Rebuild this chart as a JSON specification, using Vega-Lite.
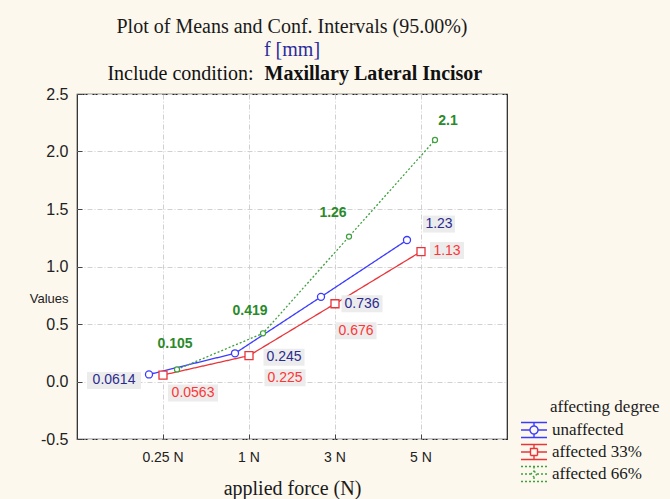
{
  "$schema": "https://vega.github.io/schema/vega-lite/v6.json",
  "width": 430,
  "height": 345,
  "autosize": {"type": "none"},
  "padding": {"left": 77, "top": 94, "right": 163, "bottom": 60},
  "background": "#fcf8ee",
  "title": {
    "text": "Plot of Means and Conf. Intervals (95.00%)",
    "subtitle": "f [mm]",
    "anchor": "middle",
    "frame": "group",
    "font": "Liberation Serif",
    "fontSize": 20,
    "fontWeight": "normal",
    "color": "#1a1a1a",
    "subtitleFont": "Liberation Serif",
    "subtitleFontSize": 20,
    "subtitleColor": "#2b2b9c",
    "subtitlePadding": 3,
    "offset": 3
  },
  "data": {
    "values": [
      {"force": "0.25 N", "degree": "unaffected", "value": 0.0614},
      {"force": "1 N", "degree": "unaffected", "value": 0.245},
      {"force": "3 N", "degree": "unaffected", "value": 0.736},
      {"force": "5 N", "degree": "unaffected", "value": 1.23},
      {"force": "0.25 N", "degree": "affected 33%", "value": 0.0563},
      {"force": "1 N", "degree": "affected 33%", "value": 0.225},
      {"force": "3 N", "degree": "affected 33%", "value": 0.676},
      {"force": "5 N", "degree": "affected 33%", "value": 1.13},
      {"force": "0.25 N", "degree": "affected 66%", "value": 0.105},
      {"force": "1 N", "degree": "affected 66%", "value": 0.419},
      {"force": "3 N", "degree": "affected 66%", "value": 1.26},
      {"force": "5 N", "degree": "affected 66%", "value": 2.1}
    ]
  },
  "encoding": {
    "x": {"field": "force", "type": "ordinal", "sort": ["0.25 N", "1 N", "3 N", "5 N"], "scale": {"type": "band", "paddingInner": 0, "paddingOuter": 0.5}, "axis": null},
    "xOffset": {"field": "degree", "type": "nominal", "sort": ["unaffected", "affected 33%", "affected 66%"], "scale": {"type": "point", "range": [29, 57], "padding": 0}},
    "y": {"field": "value", "type": "quantitative", "scale": {"domain": [-0.5, 2.5], "nice": false, "zero": false}, "axis": null}
  },
  "layer": [
    {
      "mark": {"type": "point", "filled": false, "strokeWidth": 1.4, "opacity": 0},
      "encoding": {
        "color": {"field": "degree", "type": "nominal", "scale": {"domain": ["unaffected", "affected 33%", "affected 66%"], "range": ["#3b3bff", "#e8353a", "#3f9f3f"]},
          "legend": {"orient": "none", "legendX": 473, "legendY": 305, "title": "affecting degree", "titleFont": "Liberation Serif", "titleFontSize": 17, "titleFontWeight": "normal", "titleColor": "#1a1a1a", "titlePadding": 3,
            "labelFont": "Liberation Serif", "labelFontSize": 17, "labelColor": "#1a1a1a", "symbolSize": 400, "symbolStrokeWidth": 1.4, "symbolOffset": -27, "labelOffset": 7, "rowPadding": 0, "padding": 0,
            "symbolFillColor": "white", "symbolOpacity": 1,
            "encoding": {"symbols": {"update": {"fill": {"value": "white"}, "opacity": {"value": 1}}}}}},
        "shape": {"field": "degree", "type": "nominal", "scale": {"domain": ["unaffected", "affected 33%", "affected 66%"], "range": [
          "M-1.3,-0.75H1.3M-1.3,0.75H1.3M0,-0.75V-0.4M0,0.4V0.75M-1.3,0H-0.4M0.4,0H1.3M0.4,0A0.4,0.4 0 1 1 -0.4,0A0.4,0.4 0 1 1 0.4,0",
          "M-1.3,-0.75H1.3M-1.3,0.75H1.3M0,-0.75V-0.35M0,0.35V0.75M-1.3,0H-0.35M0.35,0H1.3M-0.35,-0.35H0.35V0.35H-0.35Z",
          "M-1.3,-0.75H1.3M-1.3,0.75H1.3M0,-0.75V-0.3M0,0.3V0.75M-1.3,0H-0.3M0.3,0H1.3M0,-0.3L0.3,0L0,0.3L-0.3,0Z"]}},
        "strokeDash": {"field": "degree", "type": "nominal", "scale": {"domain": ["unaffected", "affected 33%", "affected 66%"], "range": [[1, 0], [1, 0], [2, 2]]}}
      }
    },
    {
      "mark": {"type": "line", "strokeWidth": 1.3},
      "encoding": {
        "x": {"field": "force", "type": "ordinal", "sort": ["0.25 N", "1 N", "3 N", "5 N"], "scale": {"type": "band", "paddingInner": 0, "paddingOuter": 0.5},
          "axis": {"orient": "bottom", "title": "applied force (N)", "titleFont": "Liberation Serif", "titleFontSize": 20, "titleFontWeight": "normal", "titleColor": "#1a1a1a", "titleY": 49, "titleBaseline": "middle",
            "labelFont": "Liberation Sans", "labelFontSize": 14, "labelColor": "#222", "labelAngle": 0, "labelPadding": 16, "ticks": true, "tickSize": -5, "tickColor": "#444", "domain": false,
            "grid": true, "gridColor": "#d0d0d0", "gridDash": [5, 2, 1, 2]}},
        "y": {"field": "value", "type": "quantitative", "scale": {"domain": [-0.5, 2.5], "nice": false, "zero": false},
          "axis": {"orient": "left", "title": "Values", "titleAngle": 0, "titleAlign": "right", "titleBaseline": "middle", "titleX": -9, "titleY": 204, "titleFont": "Liberation Sans", "titleFontSize": 13, "titleFontWeight": "normal", "titleColor": "#222",
            "values": [-0.5, 0, 0.5, 1, 1.5, 2, 2.5], "format": ".1f", "labelExpr": "replace(datum.label, '\u2212', '-')", "labelFont": "Liberation Sans", "labelFontSize": 16, "labelColor": "#222", "labelPadding": 14, "ticks": true, "tickSize": -5, "tickColor": "#444", "domain": false,
            "grid": true, "gridColor": "#d0d0d0", "gridDash": [5, 2, 1, 2]}},
        "color": {"field": "degree", "type": "nominal", "scale": {"domain": ["unaffected", "affected 33%", "affected 66%"], "range": ["#3b3bff", "#e8353a", "#3f9f3f"]}, "legend": null},
        "strokeDash": {"field": "degree", "type": "nominal", "scale": {"domain": ["unaffected", "affected 33%", "affected 66%"], "range": [[1, 0], [1, 0], [2, 2]]}, "legend": null}
      }
    },
    {"transform": [{"filter": "datum.degree == 'unaffected' && datum.force == '0.25 N'"}], "mark": {"type": "point", "shape": "M-6.2,-0.25H-0.8V1.45H-6.2Z", "size": 400, "filled": true, "fill": "#ececec", "strokeWidth": 0, "opacity": 1}},
    {"transform": [{"filter": "datum.degree == 'unaffected' && datum.force == '1 N'"}], "mark": {"type": "point", "shape": "M2.85,-0.45H6.95V1.25H2.85Z", "size": 400, "filled": true, "fill": "#ececec", "strokeWidth": 0, "opacity": 1}},
    {"transform": [{"filter": "datum.degree == 'unaffected' && datum.force == '3 N'"}], "mark": {"type": "point", "shape": "M2.05,-0.15H6.15V1.55H2.05Z", "size": 400, "filled": true, "fill": "#ececec", "strokeWidth": 0, "opacity": 1}},
    {"transform": [{"filter": "datum.degree == 'unaffected' && datum.force == '5 N'"}], "mark": {"type": "point", "shape": "M1.6,-2.45H4.8V-0.75H1.6Z", "size": 400, "filled": true, "fill": "#ececec", "strokeWidth": 0, "opacity": 1}},
    {"transform": [{"filter": "datum.degree == 'affected 33%' && datum.force == '0.25 N'"}], "mark": {"type": "point", "shape": "M0.5,0.95H5.5V2.65H0.5Z", "size": 400, "filled": true, "fill": "#ececec", "strokeWidth": 0, "opacity": 1}},
    {"transform": [{"filter": "datum.degree == 'affected 33%' && datum.force == '1 N'"}], "mark": {"type": "point", "shape": "M1.55,1.35H5.65V3.05H1.55Z", "size": 400, "filled": true, "fill": "#ececec", "strokeWidth": 0, "opacity": 1}},
    {"transform": [{"filter": "datum.degree == 'affected 33%' && datum.force == '3 N'"}], "mark": {"type": "point", "shape": "M0.05,1.85H4.15V3.55H0.05Z", "size": 400, "filled": true, "fill": "#ececec", "strokeWidth": 0, "opacity": 1}},
    {"transform": [{"filter": "datum.degree == 'affected 33%' && datum.force == '5 N'"}], "mark": {"type": "point", "shape": "M0.9,-0.95H4.3V0.75H0.9Z", "size": 400, "filled": true, "fill": "#ececec", "strokeWidth": 0, "opacity": 1}},
    {
      "transform": [{"filter": "datum.degree == 'unaffected'"}],
      "mark": {"type": "point", "shape": "circle", "size": 50, "fill": "white", "stroke": "#3b3bff", "strokeWidth": 1.3, "opacity": 1},
      "encoding": {
        "x": {"field": "force", "type": "ordinal", "sort": ["0.25 N", "1 N", "3 N", "5 N"], "scale": {"type": "band", "paddingInner": 0, "paddingOuter": 0.5},
          "axis": {"orient": "top", "labels": false, "ticks": false, "domain": false, "grid": false, "title": "Include condition:", "titleFont": "Liberation Serif", "titleFontSize": 20, "titleFontWeight": "normal", "titleColor": "#111", "titleAlign": "right", "titleBaseline": "middle", "titleX": 176, "titleY": -21}}
      }
    },
    {
      "transform": [{"filter": "datum.degree == 'affected 33%'"}],
      "mark": {"type": "point", "shape": "square", "size": 64, "fill": "white", "stroke": "#e8353a", "strokeWidth": 1.3, "opacity": 1},
      "encoding": {
        "y": {"field": "value", "type": "quantitative", "scale": {"domain": [-0.5, 2.5], "nice": false, "zero": false},
          "axis": {"orient": "right", "labels": false, "ticks": false, "domain": false, "grid": false, "title": "Maxillary Lateral Incisor", "titleAngle": 0, "titleFont": "Liberation Serif", "titleFontSize": 20, "titleFontWeight": "bold", "titleColor": "#111", "titleAlign": "left", "titleBaseline": "middle", "titleX": -243, "titleY": -21}}
      }
    },
    {
      "transform": [{"filter": "datum.degree == 'affected 66%'"}],
      "mark": {"type": "point", "shape": "circle", "size": 26, "fill": "white", "stroke": "#3f9f3f", "strokeWidth": 1.2, "opacity": 1}
    },
    {"transform": [{"filter": "datum.degree == 'unaffected' && datum.force == '0.25 N'"}], "mark": {"type": "text", "dx": -35, "dy": 6, "font": "Liberation Sans", "fontSize": 14, "color": "#2b2b8f"}, "encoding": {"text": {"field": "value", "type": "nominal"}}},
    {"transform": [{"filter": "datum.degree == 'unaffected' && datum.force == '1 N'"}], "mark": {"type": "text", "dx": 49, "dy": 4, "font": "Liberation Sans", "fontSize": 14, "color": "#2b2b8f"}, "encoding": {"text": {"field": "value", "type": "nominal"}}},
    {"transform": [{"filter": "datum.degree == 'unaffected' && datum.force == '3 N'"}], "mark": {"type": "text", "dx": 41, "dy": 7, "font": "Liberation Sans", "fontSize": 14, "color": "#2b2b8f"}, "encoding": {"text": {"field": "value", "type": "nominal"}}},
    {"transform": [{"filter": "datum.degree == 'unaffected' && datum.force == '5 N'"}], "mark": {"type": "text", "dx": 32, "dy": -16, "font": "Liberation Sans", "fontSize": 14, "color": "#2b2b8f"}, "encoding": {"text": {"field": "value", "type": "nominal"}}},
    {"transform": [{"filter": "datum.degree == 'affected 33%' && datum.force == '0.25 N'"}], "mark": {"type": "text", "dx": 30, "dy": 18, "font": "Liberation Sans", "fontSize": 14, "color": "#ff3535"}, "encoding": {"text": {"field": "value", "type": "nominal"}}},
    {"transform": [{"filter": "datum.degree == 'affected 33%' && datum.force == '1 N'"}], "mark": {"type": "text", "dx": 36, "dy": 22, "font": "Liberation Sans", "fontSize": 14, "color": "#ff3535"}, "encoding": {"text": {"field": "value", "type": "nominal"}}},
    {"transform": [{"filter": "datum.degree == 'affected 33%' && datum.force == '3 N'"}], "mark": {"type": "text", "dx": 21, "dy": 27, "font": "Liberation Sans", "fontSize": 14, "color": "#ff3535"}, "encoding": {"text": {"field": "value", "type": "nominal"}}},
    {"transform": [{"filter": "datum.degree == 'affected 33%' && datum.force == '5 N'"}], "mark": {"type": "text", "dx": 26, "dy": -1, "font": "Liberation Sans", "fontSize": 14, "color": "#ff3535"}, "encoding": {"text": {"field": "value", "type": "nominal"}}},
    {"transform": [{"filter": "datum.degree == 'affected 66%' && datum.force == '0.25 N'"}], "mark": {"type": "text", "dx": -2, "dy": -25, "font": "Liberation Sans", "fontSize": 14, "fontWeight": "bold", "color": "#2a8a2a"}, "encoding": {"text": {"field": "value", "type": "nominal"}}},
    {"transform": [{"filter": "datum.degree == 'affected 66%' && datum.force == '1 N'"}], "mark": {"type": "text", "dx": -13, "dy": -22, "font": "Liberation Sans", "fontSize": 14, "fontWeight": "bold", "color": "#2a8a2a"}, "encoding": {"text": {"field": "value", "type": "nominal"}}},
    {"transform": [{"filter": "datum.degree == 'affected 66%' && datum.force == '3 N'"}], "mark": {"type": "text", "dx": -16, "dy": -24, "font": "Liberation Sans", "fontSize": 14, "fontWeight": "bold", "color": "#2a8a2a"}, "encoding": {"text": {"field": "value", "type": "nominal"}}},
    {"transform": [{"filter": "datum.degree == 'affected 66%' && datum.force == '5 N'"}], "mark": {"type": "text", "dx": 13, "dy": -19, "font": "Liberation Sans", "fontSize": 14, "fontWeight": "bold", "color": "#2a8a2a"}, "encoding": {"text": {"field": "value", "type": "nominal"}}}
  ],
  "resolve": {"axis": {"x": "independent", "y": "independent"}},
  "config": {
    "view": {"fill": "white", "stroke": "#222", "strokeWidth": 1.2}
  }
}
